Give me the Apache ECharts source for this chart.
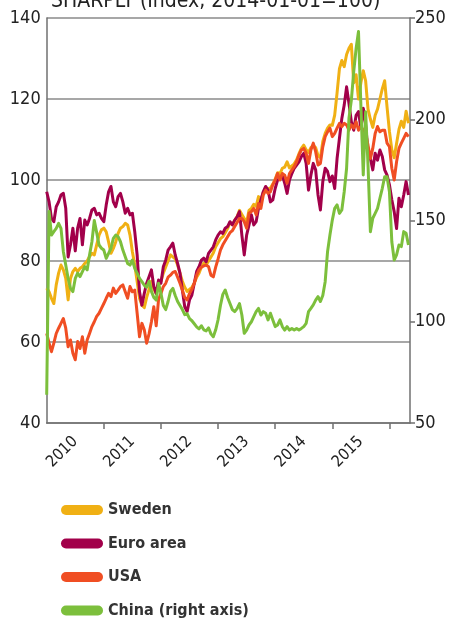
<!DOCTYPE html>
<html>
<head>
<meta charset="utf-8">
<script src="https://cdn.jsdelivr.net/npm/echarts@6.0.0/dist/echarts.min.js"></script>
<style>
  html, body { margin: 0; padding: 0; background: #fff; }
  #main { width: 451px; height: 624px; }
</style>
</head>
<body>
<div id="main"></div>
<script>
// half-monthly readings, first one at 2010-01-01
const startYear = 2010
const perYear = 24

const sweden = [
  73.3, 72.4, 70.8, 69.5, 74.1, 77, 79, 77.8, 75.7, 70.4,
  75.7, 77.4, 78.2, 77.4, 78.2, 78.6, 79.4, 80, 81.1, 81.9,
  81.5, 84, 86.4, 87.7, 88.1, 87.2, 84.7, 81.9, 83.1, 84.7,
  86.8, 88.1, 88.5, 89.3, 88.9, 86.4, 82.3, 79, 74.9, 70.8,
  69.1, 68.5, 71, 73, 75, 73, 72, 74, 75, 77,
  78.5, 80, 81.5, 81, 80.5, 79, 77, 75, 73.5, 72.5,
  73, 73.5, 74.5, 76, 77, 78.5, 79.5, 79, 80, 81,
  82, 83.5, 84.5, 85.5, 86, 87, 88, 89.5, 89, 90,
  91, 92.5, 91.5, 90.5, 89.5, 92.5, 93, 94, 93.5, 95.9,
  95, 97, 98.2, 97.8, 98, 99, 100.2, 101.8, 101.5, 102.9,
  103.2, 104.5, 103, 103.5, 104, 105, 106.5, 107.8, 108.6, 107.5,
  106.8, 108, 108.5, 108, 106, 105.5, 109.5, 111.5, 112.8, 113.6,
  113.5, 116, 121.5, 127.5, 129.5, 128, 131, 132.5, 133.5, 124,
  126, 120, 124, 127, 124.5, 117.5, 115, 113, 116, 117.5,
  120, 122.5, 124.5, 118, 112, 107.5, 105.5, 109, 112.5, 114.5,
  113, 117, 114
]

const euroArea = [
  97.1, 94.6, 90.5, 89.7, 93.4, 94.6, 96.3, 96.7, 93, 81,
  84, 88.1, 82.5, 88.1, 90.5, 84, 90.1, 88.9, 90.5, 92.6,
  93, 91.4, 91.8, 90.5, 89.7, 93.8, 97.1, 98.4, 94.6, 93.4,
  95.9, 96.7, 94.6, 91.8, 93, 91.4, 91.8, 87.2, 81.5, 72.4,
  69.1, 72, 74.5, 76.1, 77.8, 73.7, 72, 75.3, 74.5, 78.6,
  80.2, 82.7, 83.5, 84.4, 81.5, 79.4, 77, 72.8, 68.7, 67.5,
  70.4, 71.6, 74.5, 77.4, 78.6, 80.2, 80.7, 79.8, 81.9, 82.7,
  83.5, 85.2, 86.4, 87.2, 86.8, 88.1, 88.5, 89.7, 88.9, 90.1,
  90.9, 92.2, 86.4, 81.5, 86.4, 88.9, 91.4, 88.9, 89.7, 93,
  95.1, 97.1, 98.4, 97.5, 94.6, 95.1, 97.9, 100, 100.4, 101.2,
  99.2, 96.7, 100, 101.6, 102.9, 103.7, 104.5, 105.8, 106.6, 104.1,
  97.5, 101.2, 104.1, 102.5, 96.3, 92.6, 99.6, 102.9, 102.1, 99.6,
  101, 97.9, 105.3, 110.3, 115.2, 118.5, 123, 118.9, 114.4, 112.3,
  116, 116.9, 112.8, 117.7, 113.6, 107, 105.3, 102.5, 106.6, 104.9,
  107.4, 105.8, 102.5, 101.2, 98.8, 95.1, 92.2, 88, 95.5, 93.4,
  96.3, 99.6, 96.3
]

const usa = [
  62.1, 59.7, 57.6, 59.7, 62.1, 63.4, 64.6, 65.8, 63.4, 58.8,
  60.5, 57.2, 55.6, 60.1, 58.4, 61.3, 57.2, 60.5, 62.1, 63.8,
  65, 66.3, 67.1, 68.3, 69.5, 70.8, 72, 71.2, 73.3, 72,
  72.8, 73.7, 74.1, 72.4, 70.8, 73.7, 72.4, 72.8, 67.1, 61.3,
  64.6, 63, 59.7, 62, 65, 68.7, 64, 70.5, 72, 73.7,
  74.5, 76, 76.5, 77.2, 77.4, 76, 74.5, 72.8, 71, 70.4,
  72, 73, 74.5, 76.5, 77.8, 78.5, 78.8, 79, 78.6, 76.5,
  76.1, 78.5, 80.5, 82.7, 84, 85, 86, 87, 87.5, 88.5,
  89.5, 90.5, 90.5, 89.7, 88.1, 91.8, 92.2, 93, 91.4, 94.2,
  93, 96.3, 97.5, 96.7, 97.1, 98.8, 100, 101.6, 100, 101.6,
  101.2, 99.2, 101.6, 102.5, 103.3, 104.5, 106.2, 107.4, 107.8, 106.6,
  104.1, 107.4, 109.1, 107, 103.7, 104.1, 108.2, 110.7, 111.9, 112.8,
  110.7, 111.5, 112.8, 114, 113.2, 114, 113.6, 112.3, 113.6, 112.8,
  114.4, 112.3, 113.2, 112.3, 111.5, 108.6, 105.3, 107.8, 111.5, 113.2,
  111.9, 112.3, 112.3, 109.1, 108.2, 102.9, 100, 104.5, 107.8, 109.1,
  110.3, 111.5, 110.7
]

// right axis
const china = [
  64, 154.4, 142.8, 144.5, 146.1, 148.6, 146.1, 134.6, 128, 121.4,
  116.5, 114.9, 121.4, 124, 122.3, 124.8, 127.2, 125.6, 133, 139.5,
  150, 144, 137.9, 136.3, 135.4, 131.3, 133.8, 136.3, 141.2, 142.8,
  142, 139.5, 135.4, 132.1, 128.8, 128, 130.5, 126.4, 124, 121.4,
  119.8, 118, 117, 120, 115, 112, 110.7, 119, 114, 108,
  106, 110, 115, 116.5, 113, 110, 108, 106, 103.5, 104,
  101.5, 100.5, 99, 97.5, 96.5, 98, 96, 95.5, 97, 94,
  92.6, 96, 101, 108, 113.5, 115.7, 112, 109, 106, 105,
  106.5, 109, 103.3, 94.3, 95.9, 98.4, 100, 102.5, 105, 106.6,
  103.3, 105, 104.2, 100.9, 104.2, 100.9, 97.6, 98.4, 100.9, 97.6,
  95.9, 97.6, 95.9, 96.7, 95.9, 96.7, 95.9, 96.7, 97.6, 99.2,
  105, 106.6, 108.3, 110.7, 112.4, 110, 113, 119.8, 134.6, 142.8,
  150.2, 156, 157.7, 153.5, 155.2, 164.2, 175.8, 200.5, 209.5, 223.5,
  235, 243.3, 207, 172.5, 203.7, 177.4, 144.5, 151.1, 153.5, 156,
  161, 165.9, 171.6, 171.6, 164.2, 139.5, 130.5, 133, 137.9, 137.1,
  144.5, 143.7, 137.9
]

const seriesNames = ['Sweden', 'Euro area', 'USA', 'China (right axis)']
const colors = ['#f0b014', '#a2004a', '#f04e23', '#7cbf3c']
const yearTicks = [2011, 2012, 2013, 2014, 2015, 2016]
const yearLabels = [2010, 2011, 2012, 2013, 2014, 2015]

const font = 'DejaVu Sans Condensed, DejaVu Sans, sans-serif'

const toPoints = vals => vals.map((v, i) => [startYear + i / perYear, v])

const chart = echarts.init(document.getElementById('main'), null, { renderer: 'canvas' })

const allData = [sweden, euroArea, usa, china]

const option = {
  animation: false,
  backgroundColor: '#fff',
  title: {
    text: 'SHARPLY (Index, 2014-01-01=100)',
    left: 46,
    top: -14,
    textStyle: { fontFamily: font, fontSize: 21, fontWeight: 'normal', color: '#222' }
  },
  grid: { left: 46.7, right: 41, top: 18, bottom: 201, containLabel: false },
  legend: {
    orient: 'vertical',
    left: 61,
    top: 500,
    padding: 0,
    itemWidth: 42,
    itemHeight: 10,
    itemGap: 13.5,
    icon: 'path://M5,0 L37,0 A5,5 0 0 1 37,10 L5,10 A5,5 0 0 1 5,0 Z',
    textStyle: { fontFamily: font, fontSize: 16, fontWeight: 'bold', color: '#333', lineHeight: 20 },
    data: seriesNames
  },
  xAxis: {
    type: 'value',
    min: 2010,
    max: 2016.36,
    splitLine: { show: false },
    axisLine: { show: true, lineStyle: { color: '#707070', width: 1.5 } },
    axisTick: { show: true, customValues: yearTicks, length: 6, lineStyle: { color: '#707070', width: 1.5 } },
    axisLabel: {
      customValues: yearLabels.map(y => y + 0.5),
      formatter: v => String(Math.floor(v)),
      rotate: 45,
      margin: 16,
      fontFamily: font,
      fontSize: 16,
      color: '#222'
    }
  },
  yAxis: [{
    type: 'value',
    min: 40,
    max: 140,
    interval: 20,
    axisLine: { show: true, lineStyle: { color: '#707070', width: 1.5 } },
    axisTick: { show: false },
    splitLine: { show: true, lineStyle: { color: '#8a8a8a', width: 1.5 } },
    axisLabel: { fontFamily: font, fontSize: 18, color: '#222', margin: 6 }
  }, {
    type: 'value',
    min: 50,
    max: 250,
    interval: 50,
    position: 'right',
    axisLine: { show: true, lineStyle: { color: '#707070', width: 1.5 } },
    axisTick: { show: true, length: 5, lineStyle: { color: '#707070', width: 1.5 } },
    splitLine: { show: false },
    axisLabel: { fontFamily: font, fontSize: 18, color: '#222', margin: 5 }
  }],
  series: seriesNames.map((name, k) => ({
    name: name,
    type: 'line',
    yAxisIndex: k === 3 ? 1 : 0,
    showSymbol: false,
    symbol: 'none',
    color: colors[k],
    lineStyle: { width: 3, color: colors[k], join: 'round' },
    data: toPoints(allData[k])
  }))
}

chart.setOption(option)
</script>
</body>
</html>
